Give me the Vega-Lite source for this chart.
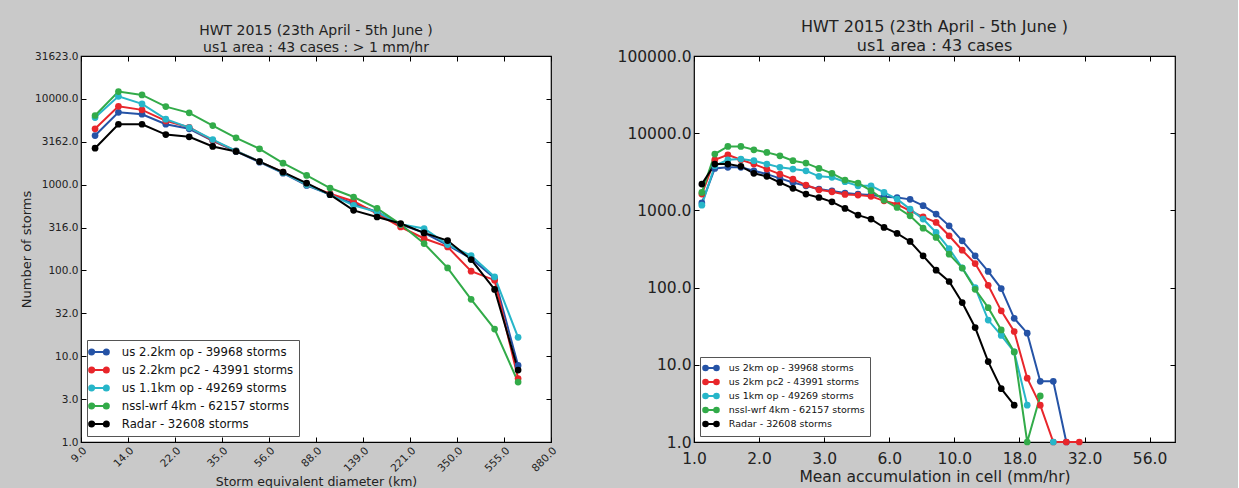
{
  "$schema": "https://vega.github.io/schema/vega-lite/v6.json",
  "background": "#c9c9c9",
  "padding": {"left": 19, "top": 18, "right": 61, "bottom": 4},
  "config": {
    "font": "DejaVu Sans",
    "view": {"stroke": "#000000", "strokeWidth": 1.2, "fill": "white"},
    "axis": {"domain": false, "grid": false, "ticks": true, "tickColor": "#000000", "tickWidth": 1, "tickSize": 5, "offset": -5, "labelColor": "#222222", "titleColor": "#222222", "titleFontWeight": "normal"},
    "title": {"fontWeight": "normal", "color": "#222222", "anchor": "middle"}
  },
  "spacing": 56,
  "resolve": {"scale": {"color": "independent"}, "legend": {"color": "independent"}},
  "datasets": {
    "left": [
      {"series": "us 2.2km op - 39968 storms", "x": 10.1, "y": 3740},
      {"series": "us 2.2km op - 39968 storms", "x": 12.7, "y": 6980},
      {"series": "us 2.2km op - 39968 storms", "x": 16.0, "y": 6620},
      {"series": "us 2.2km op - 39968 storms", "x": 20.2, "y": 5060},
      {"series": "us 2.2km op - 39968 storms", "x": 25.4, "y": 4480},
      {"series": "us 2.2km op - 39968 storms", "x": 32.0, "y": 3240},
      {"series": "us 2.2km op - 39968 storms", "x": 40.2, "y": 2440},
      {"series": "us 2.2km op - 39968 storms", "x": 50.6, "y": 1830},
      {"series": "us 2.2km op - 39968 storms", "x": 63.7, "y": 1360},
      {"series": "us 2.2km op - 39968 storms", "x": 80.3, "y": 980},
      {"series": "us 2.2km op - 39968 storms", "x": 101.0, "y": 765},
      {"series": "us 2.2km op - 39968 storms", "x": 127.2, "y": 601},
      {"series": "us 2.2km op - 39968 storms", "x": 160.1, "y": 480},
      {"series": "us 2.2km op - 39968 storms", "x": 201.6, "y": 345},
      {"series": "us 2.2km op - 39968 storms", "x": 253.8, "y": 274},
      {"series": "us 2.2km op - 39968 storms", "x": 319.5, "y": 197},
      {"series": "us 2.2km op - 39968 storms", "x": 402.3, "y": 138},
      {"series": "us 2.2km op - 39968 storms", "x": 506.4, "y": 81},
      {"series": "us 2.2km op - 39968 storms", "x": 637.5, "y": 7.8},
      {"series": "us 2.2km pc2 - 43991 storms", "x": 10.1, "y": 4480},
      {"series": "us 2.2km pc2 - 43991 storms", "x": 12.7, "y": 8200},
      {"series": "us 2.2km pc2 - 43991 storms", "x": 16.0, "y": 7450},
      {"series": "us 2.2km pc2 - 43991 storms", "x": 20.2, "y": 5540},
      {"series": "us 2.2km pc2 - 43991 storms", "x": 25.4, "y": 4670},
      {"series": "us 2.2km pc2 - 43991 storms", "x": 32.0, "y": 3270},
      {"series": "us 2.2km pc2 - 43991 storms", "x": 40.2, "y": 2480},
      {"series": "us 2.2km pc2 - 43991 storms", "x": 50.6, "y": 1860},
      {"series": "us 2.2km pc2 - 43991 storms", "x": 63.7, "y": 1400},
      {"series": "us 2.2km pc2 - 43991 storms", "x": 80.3, "y": 1000},
      {"series": "us 2.2km pc2 - 43991 storms", "x": 101.0, "y": 785},
      {"series": "us 2.2km pc2 - 43991 storms", "x": 127.2, "y": 640},
      {"series": "us 2.2km pc2 - 43991 storms", "x": 160.1, "y": 460},
      {"series": "us 2.2km pc2 - 43991 storms", "x": 201.6, "y": 321},
      {"series": "us 2.2km pc2 - 43991 storms", "x": 253.8, "y": 236},
      {"series": "us 2.2km pc2 - 43991 storms", "x": 319.5, "y": 188},
      {"series": "us 2.2km pc2 - 43991 storms", "x": 402.3, "y": 98},
      {"series": "us 2.2km pc2 - 43991 storms", "x": 506.4, "y": 77},
      {"series": "us 2.2km pc2 - 43991 storms", "x": 637.5, "y": 5.5},
      {"series": "us 1.1km op - 49269 storms", "x": 10.1, "y": 6050},
      {"series": "us 1.1km op - 49269 storms", "x": 12.7, "y": 10720},
      {"series": "us 1.1km op - 49269 storms", "x": 16.0, "y": 8740},
      {"series": "us 1.1km op - 49269 storms", "x": 20.2, "y": 5800},
      {"series": "us 1.1km op - 49269 storms", "x": 25.4, "y": 4630},
      {"series": "us 1.1km op - 49269 storms", "x": 32.0, "y": 3360},
      {"series": "us 1.1km op - 49269 storms", "x": 40.2, "y": 2480},
      {"series": "us 1.1km op - 49269 storms", "x": 50.6, "y": 1860},
      {"series": "us 1.1km op - 49269 storms", "x": 63.7, "y": 1380},
      {"series": "us 1.1km op - 49269 storms", "x": 80.3, "y": 1000},
      {"series": "us 1.1km op - 49269 storms", "x": 101.0, "y": 765},
      {"series": "us 1.1km op - 49269 storms", "x": 127.2, "y": 574},
      {"series": "us 1.1km op - 49269 storms", "x": 160.1, "y": 480},
      {"series": "us 1.1km op - 49269 storms", "x": 201.6, "y": 345},
      {"series": "us 1.1km op - 49269 storms", "x": 253.8, "y": 308},
      {"series": "us 1.1km op - 49269 storms", "x": 319.5, "y": 200},
      {"series": "us 1.1km op - 49269 storms", "x": 402.3, "y": 149},
      {"series": "us 1.1km op - 49269 storms", "x": 506.4, "y": 84},
      {"series": "us 1.1km op - 49269 storms", "x": 637.5, "y": 16.6},
      {"series": "nssl-wrf 4km - 62157 storms", "x": 10.1, "y": 6400},
      {"series": "nssl-wrf 4km - 62157 storms", "x": 12.7, "y": 12160},
      {"series": "nssl-wrf 4km - 62157 storms", "x": 16.0, "y": 11130},
      {"series": "nssl-wrf 4km - 62157 storms", "x": 20.2, "y": 8130},
      {"series": "nssl-wrf 4km - 62157 storms", "x": 25.4, "y": 6870},
      {"series": "nssl-wrf 4km - 62157 storms", "x": 32.0, "y": 4890},
      {"series": "nssl-wrf 4km - 62157 storms", "x": 40.2, "y": 3520},
      {"series": "nssl-wrf 4km - 62157 storms", "x": 50.6, "y": 2620},
      {"series": "nssl-wrf 4km - 62157 storms", "x": 63.7, "y": 1780},
      {"series": "nssl-wrf 4km - 62157 storms", "x": 80.3, "y": 1280},
      {"series": "nssl-wrf 4km - 62157 storms", "x": 101.0, "y": 914},
      {"series": "nssl-wrf 4km - 62157 storms", "x": 127.2, "y": 718},
      {"series": "nssl-wrf 4km - 62157 storms", "x": 160.1, "y": 530},
      {"series": "nssl-wrf 4km - 62157 storms", "x": 201.6, "y": 345},
      {"series": "nssl-wrf 4km - 62157 storms", "x": 253.8, "y": 206},
      {"series": "nssl-wrf 4km - 62157 storms", "x": 319.5, "y": 107},
      {"series": "nssl-wrf 4km - 62157 storms", "x": 402.3, "y": 46},
      {"series": "nssl-wrf 4km - 62157 storms", "x": 506.4, "y": 20.7},
      {"series": "nssl-wrf 4km - 62157 storms", "x": 637.5, "y": 5.0},
      {"series": "Radar - 32608 storms", "x": 10.1, "y": 2660},
      {"series": "Radar - 32608 storms", "x": 12.7, "y": 5060},
      {"series": "Radar - 32608 storms", "x": 16.0, "y": 5060},
      {"series": "Radar - 32608 storms", "x": 20.2, "y": 3840},
      {"series": "Radar - 32608 storms", "x": 25.4, "y": 3610},
      {"series": "Radar - 32608 storms", "x": 32.0, "y": 2790},
      {"series": "Radar - 32608 storms", "x": 40.2, "y": 2440},
      {"series": "Radar - 32608 storms", "x": 50.6, "y": 1860},
      {"series": "Radar - 32608 storms", "x": 63.7, "y": 1400},
      {"series": "Radar - 32608 storms", "x": 80.3, "y": 1040},
      {"series": "Radar - 32608 storms", "x": 101.0, "y": 765},
      {"series": "Radar - 32608 storms", "x": 127.2, "y": 502},
      {"series": "Radar - 32608 storms", "x": 160.1, "y": 420},
      {"series": "Radar - 32608 storms", "x": 201.6, "y": 352},
      {"series": "Radar - 32608 storms", "x": 253.8, "y": 274},
      {"series": "Radar - 32608 storms", "x": 319.5, "y": 223},
      {"series": "Radar - 32608 storms", "x": 402.3, "y": 134},
      {"series": "Radar - 32608 storms", "x": 506.4, "y": 60},
      {"series": "Radar - 32608 storms", "x": 637.5, "y": 6.9}
    ],
    "right": [
      {"series": "us 2km op - 39968 storms", "x": 1.072, "y": 1250},
      {"series": "us 2km op - 39968 storms", "x": 1.202, "y": 3500},
      {"series": "us 2km op - 39968 storms", "x": 1.349, "y": 3610},
      {"series": "us 2km op - 39968 storms", "x": 1.514, "y": 3610},
      {"series": "us 2km op - 39968 storms", "x": 1.698, "y": 3260},
      {"series": "us 2km op - 39968 storms", "x": 1.905, "y": 2950},
      {"series": "us 2km op - 39968 storms", "x": 2.138, "y": 2600},
      {"series": "us 2km op - 39968 storms", "x": 2.399, "y": 2300},
      {"series": "us 2km op - 39968 storms", "x": 2.692, "y": 2080},
      {"series": "us 2km op - 39968 storms", "x": 3.020, "y": 1890},
      {"series": "us 2km op - 39968 storms", "x": 3.388, "y": 1790},
      {"series": "us 2km op - 39968 storms", "x": 3.802, "y": 1680},
      {"series": "us 2km op - 39968 storms", "x": 4.266, "y": 1625},
      {"series": "us 2km op - 39968 storms", "x": 4.786, "y": 1580},
      {"series": "us 2km op - 39968 storms", "x": 5.370, "y": 1500},
      {"series": "us 2km op - 39968 storms", "x": 6.026, "y": 1470},
      {"series": "us 2km op - 39968 storms", "x": 6.761, "y": 1390},
      {"series": "us 2km op - 39968 storms", "x": 7.586, "y": 1150},
      {"series": "us 2km op - 39968 storms", "x": 8.511, "y": 895},
      {"series": "us 2km op - 39968 storms", "x": 9.550, "y": 631},
      {"series": "us 2km op - 39968 storms", "x": 10.72, "y": 403},
      {"series": "us 2km op - 39968 storms", "x": 12.02, "y": 258},
      {"series": "us 2km op - 39968 storms", "x": 13.49, "y": 162},
      {"series": "us 2km op - 39968 storms", "x": 15.14, "y": 97},
      {"series": "us 2km op - 39968 storms", "x": 16.98, "y": 40},
      {"series": "us 2km op - 39968 storms", "x": 19.05, "y": 25.7},
      {"series": "us 2km op - 39968 storms", "x": 21.38, "y": 6.1},
      {"series": "us 2km op - 39968 storms", "x": 23.99, "y": 6.1},
      {"series": "us 2km op - 39968 storms", "x": 26.92, "y": 1},
      {"series": "us 2km pc2 - 43991 storms", "x": 1.072, "y": 1625},
      {"series": "us 2km pc2 - 43991 storms", "x": 1.202, "y": 4530},
      {"series": "us 2km pc2 - 43991 storms", "x": 1.349, "y": 5260},
      {"series": "us 2km pc2 - 43991 storms", "x": 1.514, "y": 4530},
      {"series": "us 2km pc2 - 43991 storms", "x": 1.698, "y": 3980},
      {"series": "us 2km pc2 - 43991 storms", "x": 1.905, "y": 3430},
      {"series": "us 2km pc2 - 43991 storms", "x": 2.138, "y": 2950},
      {"series": "us 2km pc2 - 43991 storms", "x": 2.399, "y": 2540},
      {"series": "us 2km pc2 - 43991 storms", "x": 2.692, "y": 2130},
      {"series": "us 2km pc2 - 43991 storms", "x": 3.020, "y": 1850},
      {"series": "us 2km pc2 - 43991 storms", "x": 3.388, "y": 1740},
      {"series": "us 2km pc2 - 43991 storms", "x": 3.802, "y": 1610},
      {"series": "us 2km pc2 - 43991 storms", "x": 4.266, "y": 1580},
      {"series": "us 2km pc2 - 43991 storms", "x": 4.786, "y": 1520},
      {"series": "us 2km pc2 - 43991 storms", "x": 5.370, "y": 1330},
      {"series": "us 2km pc2 - 43991 storms", "x": 6.026, "y": 1200},
      {"series": "us 2km pc2 - 43991 storms", "x": 6.761, "y": 988},
      {"series": "us 2km pc2 - 43991 storms", "x": 7.586, "y": 826},
      {"series": "us 2km pc2 - 43991 storms", "x": 8.511, "y": 698},
      {"series": "us 2km pc2 - 43991 storms", "x": 9.550, "y": 469},
      {"series": "us 2km pc2 - 43991 storms", "x": 10.72, "y": 305},
      {"series": "us 2km pc2 - 43991 storms", "x": 12.02, "y": 205},
      {"series": "us 2km pc2 - 43991 storms", "x": 13.49, "y": 107},
      {"series": "us 2km pc2 - 43991 storms", "x": 15.14, "y": 50},
      {"series": "us 2km pc2 - 43991 storms", "x": 16.98, "y": 27},
      {"series": "us 2km pc2 - 43991 storms", "x": 19.05, "y": 6.7},
      {"series": "us 2km pc2 - 43991 storms", "x": 21.38, "y": 3.0},
      {"series": "us 2km pc2 - 43991 storms", "x": 23.99, "y": 1},
      {"series": "us 2km pc2 - 43991 storms", "x": 26.92, "y": 1},
      {"series": "us 2km pc2 - 43991 storms", "x": 30.20, "y": 1},
      {"series": "us 1km op - 49269 storms", "x": 1.072, "y": 1170},
      {"series": "us 1km op - 49269 storms", "x": 1.202, "y": 3790},
      {"series": "us 1km op - 49269 storms", "x": 1.349, "y": 4530},
      {"series": "us 1km op - 49269 storms", "x": 1.514, "y": 4620},
      {"series": "us 1km op - 49269 storms", "x": 1.698, "y": 4400},
      {"series": "us 1km op - 49269 storms", "x": 1.905, "y": 3980},
      {"series": "us 1km op - 49269 storms", "x": 2.138, "y": 3610},
      {"series": "us 1km op - 49269 storms", "x": 2.399, "y": 3430},
      {"series": "us 1km op - 49269 storms", "x": 2.692, "y": 3260},
      {"series": "us 1km op - 49269 storms", "x": 3.020, "y": 2760},
      {"series": "us 1km op - 49269 storms", "x": 3.388, "y": 2680},
      {"series": "us 1km op - 49269 storms", "x": 3.802, "y": 2350},
      {"series": "us 1km op - 49269 storms", "x": 4.266, "y": 2080},
      {"series": "us 1km op - 49269 storms", "x": 4.786, "y": 2080},
      {"series": "us 1km op - 49269 storms", "x": 5.370, "y": 1710},
      {"series": "us 1km op - 49269 storms", "x": 6.026, "y": 1400},
      {"series": "us 1km op - 49269 storms", "x": 6.761, "y": 1040},
      {"series": "us 1km op - 49269 storms", "x": 7.586, "y": 771},
      {"series": "us 1km op - 49269 storms", "x": 8.511, "y": 518},
      {"series": "us 1km op - 49269 storms", "x": 9.550, "y": 320},
      {"series": "us 1km op - 49269 storms", "x": 10.72, "y": 180},
      {"series": "us 1km op - 49269 storms", "x": 12.02, "y": 100},
      {"series": "us 1km op - 49269 storms", "x": 13.49, "y": 38},
      {"series": "us 1km op - 49269 storms", "x": 15.14, "y": 24},
      {"series": "us 1km op - 49269 storms", "x": 16.98, "y": 14.7},
      {"series": "us 1km op - 49269 storms", "x": 19.05, "y": 3.0},
      {"series": "us 1km op - 49269 storms", "x": 23.99, "y": 1, "segment": "b"},
      {"series": "nssl-wrf 4km - 62157 storms", "x": 1.072, "y": 1710},
      {"series": "nssl-wrf 4km - 62157 storms", "x": 1.202, "y": 5370},
      {"series": "nssl-wrf 4km - 62157 storms", "x": 1.349, "y": 6750},
      {"series": "nssl-wrf 4km - 62157 storms", "x": 1.514, "y": 6750},
      {"series": "nssl-wrf 4km - 62157 storms", "x": 1.698, "y": 6100},
      {"series": "nssl-wrf 4km - 62157 storms", "x": 1.905, "y": 5640},
      {"series": "nssl-wrf 4km - 62157 storms", "x": 2.138, "y": 5100},
      {"series": "nssl-wrf 4km - 62157 storms", "x": 2.399, "y": 4400},
      {"series": "nssl-wrf 4km - 62157 storms", "x": 2.692, "y": 4100},
      {"series": "nssl-wrf 4km - 62157 storms", "x": 3.020, "y": 3500},
      {"series": "nssl-wrf 4km - 62157 storms", "x": 3.388, "y": 3020},
      {"series": "nssl-wrf 4km - 62157 storms", "x": 3.802, "y": 2470},
      {"series": "nssl-wrf 4km - 62157 storms", "x": 4.266, "y": 2260},
      {"series": "nssl-wrf 4km - 62157 storms", "x": 4.786, "y": 1800},
      {"series": "nssl-wrf 4km - 62157 storms", "x": 5.370, "y": 1360},
      {"series": "nssl-wrf 4km - 62157 storms", "x": 6.026, "y": 1090},
      {"series": "nssl-wrf 4km - 62157 storms", "x": 6.761, "y": 851},
      {"series": "nssl-wrf 4km - 62157 storms", "x": 7.586, "y": 589},
      {"series": "nssl-wrf 4km - 62157 storms", "x": 8.511, "y": 447},
      {"series": "nssl-wrf 4km - 62157 storms", "x": 9.550, "y": 271},
      {"series": "nssl-wrf 4km - 62157 storms", "x": 10.72, "y": 179},
      {"series": "nssl-wrf 4km - 62157 storms", "x": 12.02, "y": 95},
      {"series": "nssl-wrf 4km - 62157 storms", "x": 13.49, "y": 55},
      {"series": "nssl-wrf 4km - 62157 storms", "x": 15.14, "y": 28.3},
      {"series": "nssl-wrf 4km - 62157 storms", "x": 16.98, "y": 14.7},
      {"series": "nssl-wrf 4km - 62157 storms", "x": 19.05, "y": 1},
      {"series": "nssl-wrf 4km - 62157 storms", "x": 21.38, "y": 3.95},
      {"series": "Radar - 32608 storms", "x": 1.072, "y": 2190},
      {"series": "Radar - 32608 storms", "x": 1.202, "y": 3980},
      {"series": "Radar - 32608 storms", "x": 1.349, "y": 3980},
      {"series": "Radar - 32608 storms", "x": 1.514, "y": 3720},
      {"series": "Radar - 32608 storms", "x": 1.698, "y": 3020},
      {"series": "Radar - 32608 storms", "x": 1.905, "y": 2760},
      {"series": "Radar - 32608 storms", "x": 2.138, "y": 2300},
      {"series": "Radar - 32608 storms", "x": 2.399, "y": 1930},
      {"series": "Radar - 32608 storms", "x": 2.692, "y": 1625},
      {"series": "Radar - 32608 storms", "x": 3.020, "y": 1470},
      {"series": "Radar - 32608 storms", "x": 3.388, "y": 1290},
      {"series": "Radar - 32608 storms", "x": 3.802, "y": 1060},
      {"series": "Radar - 32608 storms", "x": 4.266, "y": 869},
      {"series": "Radar - 32608 storms", "x": 4.786, "y": 771},
      {"series": "Radar - 32608 storms", "x": 5.370, "y": 601},
      {"series": "Radar - 32608 storms", "x": 6.026, "y": 503},
      {"series": "Radar - 32608 storms", "x": 6.761, "y": 396},
      {"series": "Radar - 32608 storms", "x": 7.586, "y": 258},
      {"series": "Radar - 32608 storms", "x": 8.511, "y": 168},
      {"series": "Radar - 32608 storms", "x": 9.550, "y": 120},
      {"series": "Radar - 32608 storms", "x": 10.72, "y": 64},
      {"series": "Radar - 32608 storms", "x": 12.02, "y": 30.4},
      {"series": "Radar - 32608 storms", "x": 13.49, "y": 11},
      {"series": "Radar - 32608 storms", "x": 15.14, "y": 4.9},
      {"series": "Radar - 32608 storms", "x": 16.98, "y": 3.0}
    ]
  },
  "hconcat": [
    {
      "width": 470,
      "height": 386,
      "title": {"text": ["HWT 2015 (23th April - 5th June )", "us1 area : 43  cases : > 1 mm/hr"], "fontSize": 14, "lineHeight": 17, "offset": -4},
      "data": {"name": "left"},
      "layer": [
        {
          "mark": {"type": "line", "strokeWidth": 2},
          "encoding": {
            "x": {"field": "x", "type": "quantitative", "scale": {"type": "log", "domain": [8.8, 880], "nice": false}, "axis": {"orient": "bottom", "title": "Storm equivalent diameter (km)", "titleFontSize": 12.5, "values": [8.8, 13.95, 22.1, 35.03, 55.52, 88, 139.47, 221.04, 350.3, 555.2, 880], "labelExpr": "format(round(datum.value), '.1f')", "labelAngle": -45, "labelFontSize": 10.5, "labelPadding": 3, "labelFlush": false, "minExtent": 28, "maxExtent": 28, "titlePadding": 10}},
            "y": {"field": "y", "type": "quantitative", "scale": {"type": "log", "domain": [1, 31623], "nice": false}, "axis": {"orient": "left", "title": "Number of storms", "titleFontSize": 13, "values": [1, 3.1623, 10, 31.623, 100, 316.23, 1000, 3162.3, 10000, 31623], "labelExpr": "format(round(datum.value), '.1f')", "labelFontSize": 10.5, "labelPadding": 3, "labelFlush": false, "minExtent": 42, "maxExtent": 42, "titlePadding": 11}},
            "color": {"field": "series", "type": "nominal", "scale": {"domain": ["us 2.2km op - 39968 storms", "us 2.2km pc2 - 43991 storms", "us 1.1km op - 49269 storms", "nssl-wrf 4km - 62157 storms", "Radar - 32608 storms"], "range": ["#2553a6", "#e8262b", "#27b6c9", "#32ab49", "#000000"]},
              "legend": {"title": null, "orient": "bottom-left", "offset": 6, "labelFontSize": 11.7, "labelLimit": 400, "labelColor": "#111111", "labelOffset": 15.8, "symbolType": "M-1.22,0H1.22M-1.64,0a0.42,0.42 0 1,0 0.84,0a0.42,0.42 0 1,0 -0.84,0M0.8,0a0.42,0.42 0 1,0 0.84,0a0.42,0.42 0 1,0 -0.84,0", "symbolSize": 144, "symbolStrokeWidth": 2, "rowPadding": 4, "padding": 5, "strokeColor": "#555555", "fillColor": "white", "cornerRadius": 0,
                "encode": {"symbols": {"update": {"fill": {"signal": "['#2553a6','#e8262b','#27b6c9','#32ab49','#000000'][datum.index]"}, "stroke": {"signal": "['#2553a6','#e8262b','#27b6c9','#32ab49','#000000'][datum.index]"}, "opacity": {"value": 1}}}}}}
          }
        },
        {
          "mark": {"type": "point", "filled": true, "size": 45, "opacity": 1},
          "encoding": {
            "x": {"field": "x", "type": "quantitative", "axis": {"orient": "top", "title": null, "labels": false, "values": [8.8, 13.95, 22.1, 35.03, 55.52, 88, 139.47, 221.04, 350.3, 555.2, 880]}},
            "y": {"field": "y", "type": "quantitative", "axis": {"orient": "right", "title": null, "labels": false, "values": [1, 3.1623, 10, 31.623, 100, 316.23, 1000, 3162.3, 10000, 31623]}},
            "color": {"field": "series", "type": "nominal"}
          }
        }
      ]
    },
    {
      "width": 481,
      "height": 386,
      "title": {"text": ["HWT 2015 (23th April - 5th June )", "us1 area : 43  cases"], "fontSize": 16, "lineHeight": 19, "offset": -5},
      "data": {"name": "right"},
      "layer": [
        {
          "mark": {"type": "line", "strokeWidth": 2},
          "encoding": {
            "x": {"field": "x", "type": "quantitative", "scale": {"type": "log", "domain": [1, 70.4], "nice": false}, "axis": {"orient": "bottom", "title": "Mean accumulation in cell (mm/hr)", "titleFontSize": 15.5, "values": [1, 1.7783, 3.1623, 5.6234, 10, 17.783, 31.623, 56.234], "labelExpr": "format(round(datum.value), '.1f')", "labelFontSize": 15.5, "labelPadding": 9, "labelFlush": false, "minExtent": 20, "maxExtent": 20, "titlePadding": 12}},
            "y": {"field": "y", "type": "quantitative", "scale": {"type": "log", "domain": [1, 100000], "nice": false}, "axis": {"orient": "left", "title": null, "values": [1, 10, 100, 1000, 10000, 100000], "labelExpr": "format(datum.value, '.1f')", "labelFontSize": 15.5, "labelPadding": 3, "labelFlush": false, "minExtent": 76, "maxExtent": 76}},
            "detail": {"field": "segment"},
            "color": {"field": "series", "type": "nominal", "scale": {"domain": ["us 2km op - 39968 storms", "us 2km pc2 - 43991 storms", "us 1km op - 49269 storms", "nssl-wrf 4km - 62157 storms", "Radar - 32608 storms"], "range": ["#2553a6", "#e8262b", "#27b6c9", "#32ab49", "#000000"]},
              "legend": {"title": null, "orient": "bottom-left", "offset": 6, "labelFontSize": 9.5, "labelLimit": 400, "labelColor": "#111111", "labelOffset": 11.8, "symbolType": "M-1.1,0H1.1M-1.56,0a0.46,0.46 0 1,0 0.92,0a0.46,0.46 0 1,0 -0.92,0M0.64,0a0.46,0.46 0 1,0 0.92,0a0.46,0.46 0 1,0 -0.92,0", "symbolSize": 100, "symbolStrokeWidth": 2, "rowPadding": 0, "padding": 5, "strokeColor": "#555555", "fillColor": "white", "cornerRadius": 0,
                "encode": {"symbols": {"update": {"fill": {"signal": "['#2553a6','#e8262b','#27b6c9','#32ab49','#000000'][datum.index]"}, "stroke": {"signal": "['#2553a6','#e8262b','#27b6c9','#32ab49','#000000'][datum.index]"}, "opacity": {"value": 1}}}}}}
          }
        },
        {
          "mark": {"type": "point", "filled": true, "size": 45, "opacity": 1},
          "encoding": {
            "x": {"field": "x", "type": "quantitative", "axis": {"orient": "top", "title": null, "labels": false, "values": [1, 1.7783, 3.1623, 5.6234, 10, 17.783, 31.623, 56.234]}},
            "y": {"field": "y", "type": "quantitative", "axis": {"orient": "right", "title": null, "labels": false, "values": [1, 10, 100, 1000, 10000, 100000]}},
            "color": {"field": "series", "type": "nominal"}
          }
        }
      ]
    }
  ]
}
